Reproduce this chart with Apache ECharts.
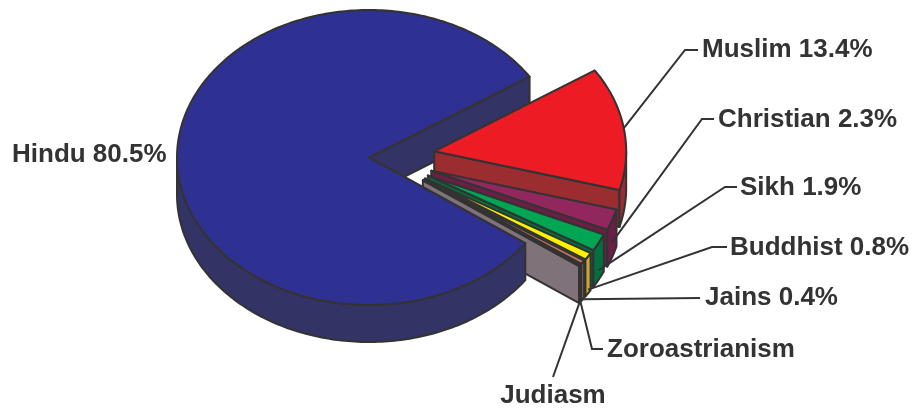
<!DOCTYPE html>
<html><head><meta charset="utf-8">
<script src="https://cdn.jsdelivr.net/npm/echarts@6/dist/echarts.min.js"></script>
<style>html,body{margin:0;padding:0;background:#fff}#chart{width:915px;height:408px}</style>
</head><body><div id="chart"></div>
<script>
// ---- data ----
const categories = ['Hindu', 'Muslim', 'Christian', 'Sikh', 'Buddhist', 'Jains', 'Zoroastrianism', 'Judiasm'];
const values = [80.5, 13.4, 2.3, 1.9, 0.8, 0.4, 0.1, 0.1];
const showPercent = [true, true, true, true, true, true, false, false];

// ---- style / layout ----
const topColors  = ['#2e3192', '#ed1c24', '#92275e', '#00a651', '#fff200', '#c0745c', '#a69c98', '#8a7c84'];
const sideColors = ['#333366', '#9b2c30', '#6b1f47', '#00703f', '#c9a83a', '#a8624f', '#978c88', '#807279'];
const PIE = { cx: 369, cy: 157.5, rx: 192, ry: 147.5, depth: 37, startAngle: -35.5, explodeY: 0.6 };
const explode = [0, 66, 66, 66, 66, 66, 66, 66];
const labelLayout = [
  { x: 12,  y: 155, align: 'left' },
  { x: 702, y: 50,  align: 'left', anchorDepth: 0,   path: [[685, 50], [698, 50]] },
  { x: 718, y: 120, align: 'left', anchorDepth: 0.6, path: [[702, 119], [714, 119]] },
  { x: 740, y: 188, align: 'left', anchorDepth: 0.75, path: [[725, 187], [737, 187]] },
  { x: 730, y: 248, align: 'left', anchorDepth: 0.9, path: [[712, 247], [727, 247]] },
  { x: 705, y: 298, align: 'left', anchorDepth: 1.0, path: [[700, 298]] },
  { x: 607, y: 350, align: 'left', anchorDepth: 1.0, path: [[592, 349], [603, 349]] },
  { x: 553, y: 396, align: 'center', anchorDepth: 1.0, path: [[553, 377]] }
];
const FONT = 'bold 26px "Liberation Sans", Arial, sans-serif';
const LINE = '#333333';

// ---- geometry from values ----
const total = values.reduce((a, b) => a + b, 0);
const slices = [];
let acc = PIE.startAngle;
values.forEach(v => {
  const span = v / total * 360;
  const a2 = acc, a1 = acc - span;
  slices.push({ a1, a2, mid: (a1 + a2) / 2 });
  acc = a1;
});
const rad = d => d * Math.PI / 180;
function P(ax, ay, t, dz) {
  return [ax + PIE.rx * Math.cos(rad(t)), ay - PIE.ry * Math.sin(rad(t)) + (dz || 0)];
}
function arc(ax, ay, t1, t2, dz) {
  const n = Math.max(2, Math.ceil(Math.abs(t2 - t1) / 1) + 1);
  const pts = [];
  for (let i = 0; i < n; i++) pts.push(P(ax, ay, t1 + (t2 - t1) * i / (n - 1), dz));
  return pts;
}
function frontIntervals(a1, a2) {
  const out = [];
  for (let k = Math.floor(a1 / 360) - 1; k <= Math.ceil(a2 / 360) + 1; k++) {
    const lo = Math.max(a1, -180 + 360 * k), hi = Math.min(a2, 360 * k);
    if (hi - lo > 1e-6) out.push([lo, hi]);
  }
  return out;
}

function renderItem(params, api) {
  const i = params.dataIndex;
  const s = slices[i];
  const d = explode[i];
  const ax = PIE.cx + d * Math.cos(rad(s.mid));
  const ay = PIE.cy - d * Math.sin(rad(s.mid)) * PIE.explodeY;
  const D = PIE.depth;
  const base = i === 0 ? 50 : 10 + i * 3;
  const stroke = { stroke: LINE, lineWidth: 2, lineJoin: 'round' };
  const children = [];
  const wallStyle = Object.assign({ fill: sideColors[i] }, stroke);
  const radial = (t) => {
    const o = P(ax, ay, t, 0);
    return { type: 'polygon', z2: i === 0 ? 1 : base,
      shape: { points: [[ax, ay], o, [o[0], o[1] + D], [ax, ay + D]] }, style: wallStyle };
  };
  if (Math.cos(rad(s.a1)) > 0) children.push(radial(s.a1));
  if (Math.cos(rad(s.a2)) < 0) children.push(radial(s.a2));
  frontIntervals(s.a1, s.a2).forEach(([b1, b2]) => {
    const pts = arc(ax, ay, b1, b2, 0).concat(arc(ax, ay, b2, b1, D));
    children.push({ type: 'polygon', z2: base, shape: { points: pts }, style: wallStyle });
  });
  children.push({ type: 'polygon', z2: base + 1,
    shape: { points: [[ax, ay]].concat(arc(ax, ay, s.a1, s.a2, 0)) },
    style: Object.assign({ fill: topColors[i] }, stroke) });
  const L = labelLayout[i];
  if (L.path) {
    const anchor = P(ax, ay, s.mid, D * L.anchorDepth);
    children.push({ type: 'polyline', z2: 200,
      shape: { points: [anchor].concat(L.path) },
      style: { stroke: LINE, lineWidth: 2, fill: null } });
  }
  const txt = categories[i] + (showPercent[i] ? ' ' + values[i].toFixed(1) + '%' : '');
  children.push({ type: 'text', z2: 201, x: L.x, y: L.y,
    style: { text: txt, font: FONT, fill: '#333333', align: L.align, verticalAlign: 'middle' } });
  return { type: 'group', children };
}

const chart = echarts.init(document.getElementById('chart'), null, { renderer: 'canvas' });
chart.setOption({
  animation: false,
  backgroundColor: '#ffffff',
  series: [{
    type: 'custom',
    coordinateSystem: 'none',
    renderItem,
    data: values.map((v, i) => ({ name: categories[i], value: v }))
  }]
});
</script>
</body></html>
